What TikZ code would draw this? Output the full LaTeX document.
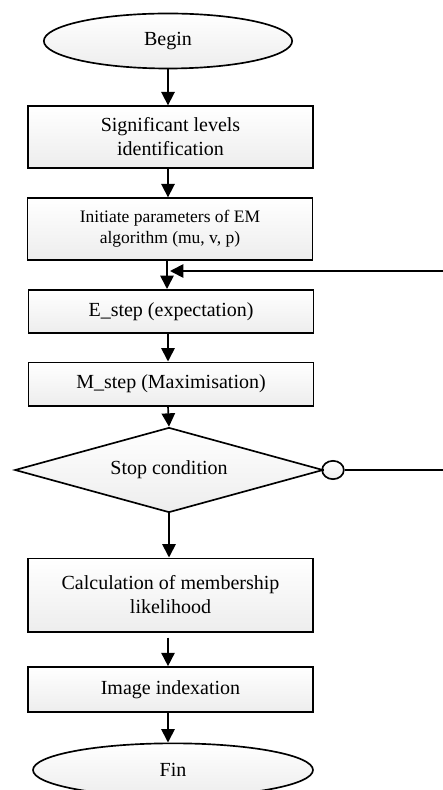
\documentclass[tikz,border=0pt]{standalone}
\usepackage{fontspec}
\setmainfont{Liberation Serif}
\usetikzlibrary{shapes,arrows.meta,positioning,calc}
\definecolor{BoxShade}{gray}{0.93}

\begin{document}
\begin{tikzpicture}[x=0.6pt,y=-0.6pt,
						font=\fontsize{12}{14.4}\selectfont,
						flow/.style={draw,line width=1pt,top color=white,bottom color=BoxShade,align=center,inner sep=2pt},
						stepbox/.style={flow,rectangle,minimum width=171pt},
						term/.style={flow,ellipse},
						arr/.style={line width=1pt,-{Triangle[width=8pt,length=8pt]}}
					]
					\useasboundingbox (0,0) rectangle (442,790);

					\node[term,minimum width=149pt,minimum height=33pt] (B) at (168,41) {Begin};
					\node[stepbox,minimum height=37pt] (S) at (170.5,137) {Significant levels\\identification};
					\node[stepbox,minimum height=37pt,font=\fontsize{10.5}{12.6}\selectfont] (I) at (170,229) {Initiate parameters of EM\\algorithm (mu, v, p)};
					\node[stepbox,minimum height=26pt] (E) at (171,311.5) {E\_step (expectation)};
					\node[stepbox,minimum height=26pt] (M) at (171,384) {M\_step (Maximisation)};
					\node[flow,diamond,aspect=3.6,minimum width=185pt,minimum height=51pt,inner sep=0pt] (C) at (169,470) {Stop condition};
					\node[flow,ellipse,minimum width=13pt,minimum height=11pt,inner sep=0pt] (R) at (333,470) {};
					\node[stepbox,minimum height=44pt] (L) at (170.5,595) {Calculation of membership\\likelihood};
					\node[stepbox,minimum height=27pt] (X) at (170.5,689.5) {Image indexation};
					\node[term,minimum width=168pt,minimum height=32pt] (F) at (173,770) {Fin};

					\coordinate (J) at (170,271);
					\coordinate (Rb) at (452,470);

					%\draw[arr] (B) -- (S);
					\draw[arr] (B.south) -- (B.south |- S.north);
					\draw[arr] (S.south -| B.south) -- (I.north -| B.south);
					\draw[arr] (I.south -| J) ++(-3,0) -- ($(E.north -| J)+(-3,0)$);
					\draw[arr] (E.south -| B.south) -- (M.north -| B.south);
					\draw[arr] (M.south -| B.south) -- (C.north);
					\draw[arr] (C.south) -- (C.south |- L.north);
					\draw[arr,shorten <=3pt] (L.south -| B.south) -- (X.north -| B.south);
					\draw[arr] (X.south -| B.south) -- (F.north -| B.south);
					\draw[line width=1pt] (C.east) -- (R.west);
					\draw[arr] (R.east) -- (Rb) |- (J);
				\end{tikzpicture}
\end{document}
